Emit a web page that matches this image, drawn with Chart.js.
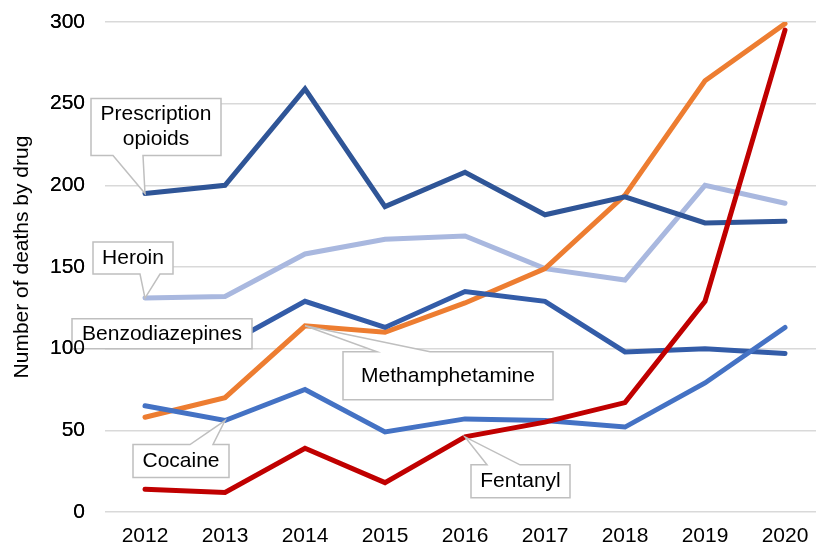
<!DOCTYPE html>
<html>
<head>
<meta charset="utf-8">
<script src="https://cdn.jsdelivr.net/npm/chart.js@4"></script>
<style>
  html, body { margin: 0; padding: 0; background: #fff; overflow: hidden; }
  #wrap { width: 825px; height: 546px; }
</style>
</head>
<body>
<div id="wrap"><canvas id="drugChart" width="825" height="546"></canvas></div>
<script>
// data
const years = ['2012', '2013', '2014', '2015', '2016', '2017', '2018', '2019', '2020'];
const fentanyl = [14, 12, 39, 18, 46, 55, 67, 129, 295];
const cocaine = [65, 56, 75, 49, 57, 56, 52, 79, 113];
const benzodiazepines = [103, 102, 129, 113, 135, 129, 98, 100, 97];
const prescriptionOpioids = [195, 200, 259, 187, 208, 182, 193, 177, 178];
const methamphetamine = [58, 70, 114, 110, 128, 149, 194, 264, 299];
const heroin = [131, 132, 158, 167, 169, 149, 142, 200, 189];
const yTicks = [0, 50, 100, 150, 200, 250, 300];
const yTitle = 'Number of deaths by drug';

const FONT = 'Arial, "Liberation Sans", sans-serif';

// first one is drawn on top
const series = [
    { label: 'Fentanyl', data: fentanyl, color: '#C00000' },
    { label: 'Cocaine', data: cocaine, color: '#4472C4' },
    { label: 'Benzodiazepines', data: benzodiazepines, color: '#335CA8' },
    { label: 'Prescription opioids', data: prescriptionOpioids, color: '#2F5597' },
    { label: 'Methamphetamine', data: methamphetamine, color: '#ED7D31' },
    { label: 'Heroin', data: heroin, color: '#A9B8DF' }
];

// callout boxes: anchored to a point, box offset from it, wedge base on one edge
const callouts = [
    { text: ['Prescription', 'opioids'], series: 'Prescription opioids', index: 0, box: [-54, -95, 130, 57], wedge: ['bottom', -32, -2] },
    { text: ['Heroin'], series: 'Heroin', index: 0, box: [-52, -56, 80, 32], wedge: ['bottom', -5, 15] },
    { text: ['Benzodiazepines'], series: 'Benzodiazepines', index: 0, box: [-73, -25, 180, 30], wedge: null },
    { text: ['Methamphetamine'], series: 'Methamphetamine', index: 2, box: [38, 26, 210, 48], wedge: ['top', 72, 125] },
    { text: ['Cocaine'], series: 'Cocaine', index: 1, box: [-92, 24, 96, 33], wedge: ['top', -35, -12] },
    { text: ['Fentanyl'], series: 'Fentanyl', index: 4, box: [6, 28, 99, 33], wedge: ['top', 22, 55] }
];

const calloutPlugin = {
    id: 'callouts',
    afterDatasetsDraw(chart) {
        const ctx = chart.ctx;
        const xs = chart.scales.x;
        const ys = chart.scales.y;
        callouts.forEach(c => {
            const s = series.find(d => d.label === c.series);
            const px = xs.getPixelForValue(c.index);
            const py = ys.getPixelForValue(s.data[c.index]);
            const x = px + c.box[0], y = py + c.box[1], w = c.box[2], h = c.box[3];
            ctx.save();
            ctx.beginPath();
            ctx.moveTo(x, y);
            if (c.wedge && c.wedge[0] === 'top') {
                ctx.lineTo(px + c.wedge[1], y);
                ctx.lineTo(px, py);
                ctx.lineTo(px + c.wedge[2], y);
            }
            ctx.lineTo(x + w, y);
            ctx.lineTo(x + w, y + h);
            if (c.wedge && c.wedge[0] === 'bottom') {
                ctx.lineTo(px + c.wedge[2], y + h);
                ctx.lineTo(px, py);
                ctx.lineTo(px + c.wedge[1], y + h);
            }
            ctx.lineTo(x, y + h);
            ctx.closePath();
            ctx.fillStyle = '#FFFFFF';
            ctx.fill();
            ctx.strokeStyle = '#BFBFBF';
            ctx.lineWidth = 1.5;
            ctx.stroke();
            ctx.fillStyle = '#000000';
            ctx.font = '21px ' + FONT;
            ctx.textAlign = 'center';
            ctx.textBaseline = 'middle';
            const lh = 25;
            c.text.forEach((t, i) => {
                ctx.fillText(t, x + w / 2, y + h / 2 + (i - (c.text.length - 1) / 2) * lh);
            });
            ctx.restore();
        });
        // tick labels sit over the boxes in the original
        ys.drawLabels(chart.chartArea);

        // axis title, a bit above the middle of the axis like the original
        ctx.save();
        ctx.translate(22, (chart.chartArea.top + chart.chartArea.bottom) / 2 - 10);
        ctx.rotate(-Math.PI / 2);
        ctx.fillStyle = '#000000';
        ctx.font = '21px ' + FONT;
        ctx.textAlign = 'center';
        ctx.textBaseline = 'middle';
        ctx.fillText(yTitle, 0, 0);
        ctx.restore();
    }
};

new Chart(document.getElementById('drugChart').getContext('2d'), {
    type: 'line',
    data: {
        labels: years,
        datasets: series.map(s => ({
            label: s.label,
            data: s.data,
            borderColor: s.color,
            backgroundColor: s.color,
            borderWidth: 5,
            pointRadius: 0,
            tension: 0,
            fill: false,
            borderCapStyle: 'round',
            borderJoinStyle: 'miter'
        }))
    },
    options: {
        responsive: false,
        animation: false,
        devicePixelRatio: 1,
        layout: { padding: { top: 22, left: 0, right: 0, bottom: 0 } },
        plugins: {
            legend: { display: false },
            tooltip: { enabled: false }
        },
        scales: {
            x: {
                type: 'category',
                offset: true,
                grid: { display: false, drawTicks: false },
                border: { display: false },
                ticks: { color: '#000', font: { family: FONT, size: 21 }, padding: 12, maxRotation: 0 },
                afterFit: scale => {
                    scale.height = 34;
                    scale.paddingLeft = 0;
                    scale.paddingRight = 0;
                }
            },
            y: {
                min: 0,
                max: 300,
                afterBuildTicks: scale => { scale.ticks = yTicks.map(v => ({ value: v })); },
                grid: { color: '#D9D9D9', lineWidth: 1.5, drawTicks: false },
                border: { display: false },
                ticks: { color: '#000', font: { family: FONT, size: 21 }, padding: 20 },
                title: { display: false },
                afterFit: scale => {
                    scale.width = 105;
                    scale.paddingTop = 0;
                    scale.paddingBottom = 0;
                }
            }
        }
    },
    plugins: [calloutPlugin]
});
</script>
</body>
</html>
